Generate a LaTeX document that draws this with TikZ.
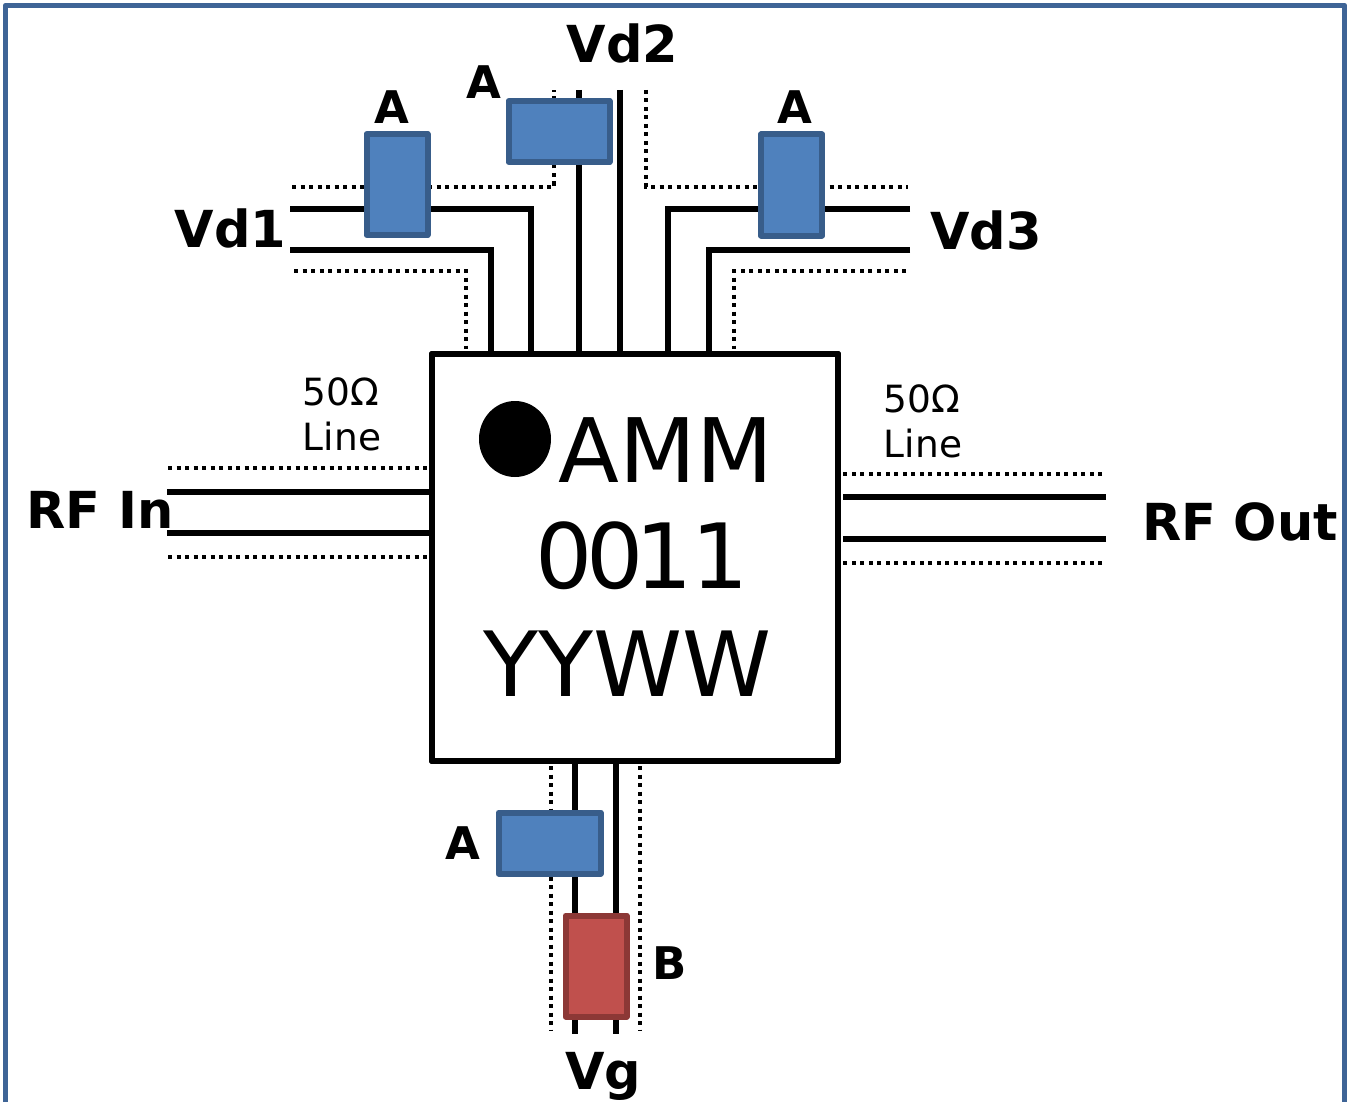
\documentclass[tikz,border=0pt]{standalone}
\usepackage{fontspec}
\setmainfont{DejaVu Sans}
\definecolor{frameblue}{HTML}{3E6496}
\definecolor{afill}{HTML}{4F81BD}
\definecolor{aedge}{HTML}{385D8A}
\definecolor{bfill}{HTML}{C0504D}
\definecolor{bedge}{HTML}{8C3836}
\tikzset{
  x=1pt,y=-1pt,
  wire/.style={draw=black,line width=6.5pt,line join=miter},
  dots/.style={draw=black,line width=4.5pt,dash pattern=on 4pt off 4.5pt},
  chipbox/.style={draw=black,line width=6.5pt,line join=round,fill=white,minimum width=406pt,minimum height=407pt,inner sep=0pt,outer sep=0pt},
  partbox/.style={line width=6pt,line join=round,inner sep=0pt,outer sep=0pt},
  abox/.style={partbox,draw=aedge,fill=afill},
  bbox/.style={partbox,draw=bedge,fill=bfill},
  blabel/.style={font=\bfseries\fontsize{51}{51}\selectfont,inner sep=0pt},
  plabel/.style={font=\bfseries\fontsize{45}{45}\selectfont,inner sep=0pt},
  marklabel/.style={font=\fontsize{90}{90}\selectfont,inner sep=0pt},
  linelabel/.style={font=\fontsize{37.5}{45}\selectfont,inner sep=0pt,align=left},
}
\begin{document}
\begin{tikzpicture}
\useasboundingbox (0,0) rectangle (1348,1102);
\fill[white] (0,0) rectangle (1348,1102);
\draw[frameblue,line width=5.5pt,line join=round] (5.5,1102) -- (5.5,5.5) -- (1344.5,5.5) -- (1344.5,1102);

% chip
\node[chipbox] (chip) at (635,557.5) {};

% free ends
\foreach \n/\x/\y in {
  a/290/209,b/290/250,c/292/187,d/294/271,
  e/579/90,f/620/90,g/554/90,h/646/90,
  i/910/209,j/910/250,k/908/187,l/906/271,
  m/167/492,n/167/533,o/168/468,p/168/557,
  q/1106/497,r/1106/539,s/1102/474,t/1102/563,
  u/575/1034,v/616/1034,w/551/1030,y/640/1030}
  {\coordinate (end\n) at (\x,\y);}
% ends on the chip
\foreach \n/\x/\y in {
  a/531/354,b/491/354,d/466/349,e/579/354,f/620/354,
  i/668/354,j/709/354,l/734/349,
  m/432/492,n/432/533,o/428/468,p/428/557,
  q/843/497,r/843/539,s/843/474,t/843/563,
  u/575/761,v/616/761,w/551/766,y/640/766}
  {\coordinate (pin\n) at (\x,\y);}

% Vd1
\draw[wire] (enda) -| (pina);
\draw[wire] (endb) -| (pinb);
\draw[dots] (endc) -| (endg);
\draw[dots] (endd) -| (pind);
% Vd2
\draw[wire] (ende) -- (pine);
\draw[wire] (endf) -- (pinf);
\draw[dots] (endh) |- (endk);
% Vd3
\draw[wire] (endi) -| (pini);
\draw[wire] (endj) -| (pinj);
\draw[dots] (endl) -| (pinl);
% RF
\draw[wire] (endm) -- (pinm);
\draw[wire] (endn) -- (pinn);
\draw[dots] (endo) -- (pino);
\draw[dots] (endp) -- (pinp);
\draw[wire] (endq) -- (pinq);
\draw[wire] (endr) -- (pinr);
\draw[dots] (ends) -- (pins);
\draw[dots] (endt) -- (pint);
% Vg
\draw[wire] (pinu) -- (endu);
\draw[wire] (pinv) -- (endv);
\draw[dots] (pinw) -- (endw);
\draw[dots] (piny) -- (endy);

% chip outline on top of pins
\node[chipbox,fill=none] (chipedge) at (635,557.5) {};

% parts
\node[abox,minimum width=61pt,minimum height=101pt] (a1) at (397,184.5) {};
\node[abox,minimum width=101pt,minimum height=61pt] (a2) at (559,131.5) {};
\node[abox,minimum width=61pt,minimum height=101pt] (a3) at (791.5,185) {};
\node[abox,minimum width=102pt,minimum height=61pt] (a4) at (549.5,843) {};
\node[bbox,minimum width=61pt,minimum height=101pt] (b1) at (596,966) {};

% chip marking
\fill[black] (515,439) ellipse [x radius=36pt,y radius=38pt];
\node[marklabel,font=\fontsize{89}{89}\selectfont] (m1) at (666,450) {AMM};
\node[marklabel] (m2) at (642.5,556) {0\kern-7pt 0\kern-8pt 1\kern-1pt 1};
\node[marklabel] (m3) at (627,664) {YYWW};

% labels
\node[blabel] (lvd2) at (622.5,43.5) {Vd2};
\node[blabel] (lvd1) at (230.5,228.5) {Vd1};
\node[blabel] (lvd3) at (986,230) {Vd3};
\node[blabel] (lin) at (100,509.5) {RF In};
\node[blabel] (lout) at (1240,521.5) {RF Out};
\node[blabel] (lvg) at (603,1076.5) {Vg};
\node[plabel] (la1) at (392,107.5) {A};
\node[plabel] (la2) at (484,82.5) {A};
\node[plabel] (la3) at (795,107.5) {A};
\node[plabel] (la4) at (462.5,843.5) {A};
\node[plabel] (lb) at (670,963.5) {B};
\node[linelabel] (l50a) at (342,414.5) {50Ω\\Line};
\node[linelabel] (l50b) at (923,421.5) {50Ω\\Line};
\end{tikzpicture}
\end{document}
